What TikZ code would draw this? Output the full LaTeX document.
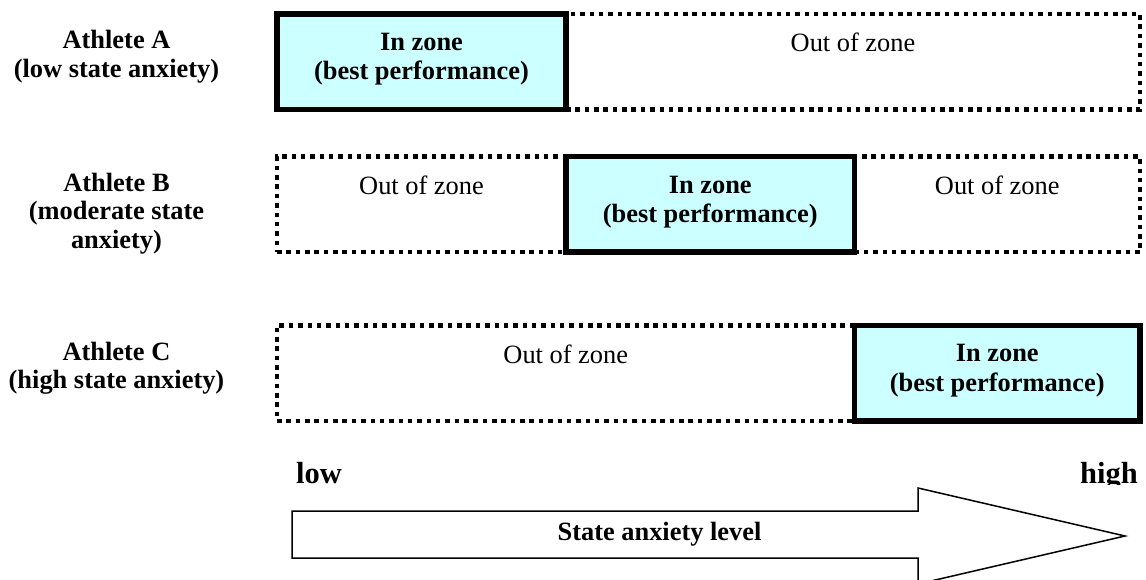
\documentclass[tikz,border=0pt]{standalone}
\usepackage{fontspec}
\setmainfont{Liberation Serif}
\definecolor{zonefill}{HTML}{CCFFFF}
\tikzset{
  zonebox/.style={draw=black, line width=5.5pt, fill=zonefill, inner sep=0pt, outer sep=0pt, minimum height=95.5pt},
  outbox/.style={draw=black, line width=4.5pt, dash pattern=on 4.5pt off 4.85pt, inner sep=0pt, outer sep=0pt, minimum height=95.5pt},
  boxtext/.style={anchor=north, inner sep=0pt, align=center, font=\fontsize{26.4}{29.5}\selectfont},
  intext/.style={boxtext, font=\fontsize{26.4}{29.5}\selectfont\bfseries},
  athlete/.style={anchor=north, inner sep=0pt, align=center, font=\fontsize{26.4}{28.8}\selectfont\bfseries},
  endtext/.style={inner sep=0pt, font=\fontsize{30.5}{34}\selectfont\bfseries},
  bigarrow/.style={draw=black, line width=1.5pt, line join=miter}
}
\begin{document}
\begin{tikzpicture}[x=1pt, y=-1pt]
\useasboundingbox (0,0) rectangle (1146,580);
\clip (0,0) rectangle (1146,580);

% Row A
\node[outbox, minimum width=574pt] (a2) at (853,61.75) {};
\node[zonebox, minimum width=289pt] (a1) at (421.5,61.75) {};
% Row B
\node[outbox, minimum width=289pt] (b1) at (421.5,204.5) {};
\node[outbox, minimum width=285.5pt] (b3) at (997.25,204.5) {};
\node[zonebox, minimum width=288.5pt] (b2) at (710.25,204.5) {};
% Row C
\node[outbox, minimum width=577.5pt] (c1) at (565.75,373) {};
\node[zonebox, minimum width=285.5pt] (c2) at (997.25,373) {};

% Box texts
\node[intext] (a1t) at ([yshift=-19pt]a1.north) {In zone\\(best performance)};
\node[boxtext] (a2t) at ([yshift=-19pt]a2.north) {Out of zone};
\node[boxtext] (b1t) at ([yshift=-19pt]b1.north) {Out of zone};
\node[intext] (b2t) at ([yshift=-19pt]b2.north) {In zone\\(best performance)};
\node[boxtext] (b3t) at ([yshift=-19pt]b3.north) {Out of zone};
\node[boxtext] (c1t) at ([yshift=-19pt]c1.north) {Out of zone};
\node[intext] (c2t) at ([yshift=-19pt]c2.north) {In zone\\(best performance)};

% Athlete labels
\node[athlete] (la) at (116.5,30) {Athlete A\\(low state anxiety)};
\node[athlete] (lb) at (116.5,172.5) {Athlete B\\(moderate state\\anxiety)};
\node[athlete] (lc) at (116.5,341.5) {Athlete C\\(high state anxiety)};

% Axis arrow
\draw[bigarrow] (292,511) -- (918,511) -- (918,488) -- (1125,536) -- (918,584) -- (918,558) -- (292,558) -- cycle;
\node[endtext, anchor=base west] (low) at (296,483) {low};
\begin{scope}
\clip (1000,440) rectangle (1146,484.5);
\node[endtext, anchor=base east] (high) at (1138,483) {high};
\end{scope}
\node[inner sep=0pt, anchor=base, font=\fontsize{26.4}{29.5}\selectfont\bfseries] (lvl) at (659.5,540) {State anxiety level};
\end{tikzpicture}
\end{document}
